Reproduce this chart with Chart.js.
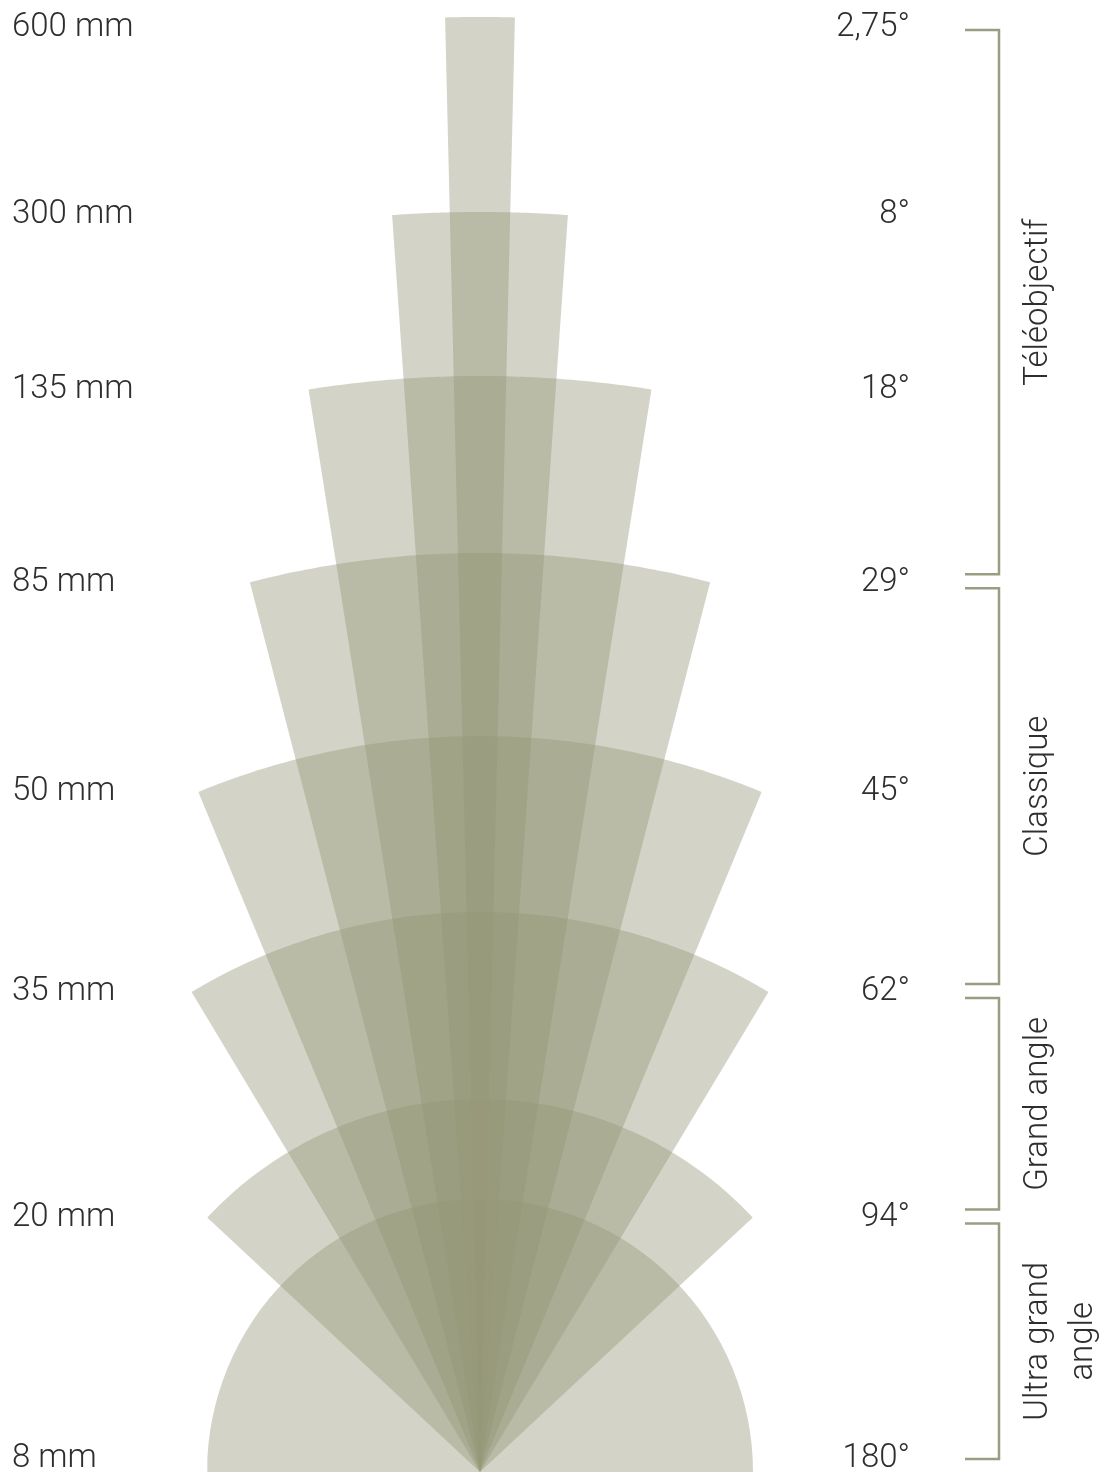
<!DOCTYPE html>
<html lang="fr">
<head>
  <meta charset="UTF-8">
  <title>Focales et angles de champ</title>
  <script src="https://cdn.jsdelivr.net/npm/chart.js"></script>
  <style>
    html, body { margin: 0; padding: 0; background: #fff; }
  </style>
</head>
<body>
  <canvas id="fanChart" width="1115" height="1476"></canvas>
  <script>
    // focales, de la plus longue à la plus courte
    const focales = ['600 mm', '300 mm', '135 mm', '85 mm', '50 mm', '35 mm', '20 mm', '8 mm'];
    // angle de champ (degrés) et son libellé
    const angles = [2.75, 8, 18, 29, 45, 62, 94, 180];
    const anglesLabels = ['2,75°', '8°', '18°', '29°', '45°', '62°', '94°', '180°'];
    // longueur de chaque secteur
    const portees = [1455, 1260, 1096, 919, 736, 560, 373, 273];
    // familles d'objectifs (indices de focales)
    const familles = [
      { nom: ['Téléobjectif'], de: 0, a: 3 },
      { nom: ['Classique'], de: 3, a: 5 },
      { nom: ['Grand angle'], de: 5, a: 6 },
      { nom: ['Ultra grand', 'angle'], de: 6, a: 7 }
    ];

    const couleur = 'rgba(148, 150, 118, 0.41)';
    const police = { family: 'Roboto, "DejaVu Sans", sans-serif', size: 33, weight: '300' };
    const encre = '#2e2e2e';
    const hauteur = 1472;

    // chaque secteur = arc (rempli jusqu'au "V" des deux rayons)
    const datasets = [];
    const niveaux = [];
    angles.forEach((a, i) => {
      const demi = a / 2 * Math.PI / 180;
      const r = portees[i];
      const arc = [];
      const n = 64;
      for (let k = 0; k <= n; k++) {
        const t = -demi + 2 * demi * k / n;
        arc.push({ x: r * Math.sin(t), y: r * Math.cos(t) });
      }
      const coinX = r * Math.sin(demi), coinY = r * Math.cos(demi);
      datasets.push({
        label: focales[i],
        data: arc,
        fill: '+1',
        backgroundColor: couleur,
        borderWidth: 0,
        pointRadius: 0
      });
      datasets.push({
        label: focales[i] + ' rayons',
        data: [{ x: -coinX, y: coinY }, { x: 0, y: 0 }, { x: coinX, y: coinY }],
        fill: false,
        borderWidth: 0,
        borderColor: 'rgba(0,0,0,0)',
        pointRadius: 0
      });
      // libellés à hauteur des coins du secteur, sans sortir du cadre
      niveaux.push(Math.min(Math.max(coinY, 13), hauteur - 28));
    });

    // accolades et noms de familles à droite
    const accolades = {
      id: 'accolades',
      afterDraw(chart) {
        const s = chart.scales.y2;
        const ctx = chart.ctx;
        const xBarre = s.right + 89, xTrait = s.right + 55;
        ctx.save();
        familles.forEach((f, j) => {
          const y0 = s.getPixelForValue(niveaux[f.de]) + (j === 0 ? 2 : 6);
          const y1 = s.getPixelForValue(niveaux[f.a]) - (j === familles.length - 1 ? 0 : 8);
          ctx.strokeStyle = '#9b9d82';
          ctx.lineWidth = 2.5;
          ctx.beginPath();
          ctx.moveTo(xTrait, y0);
          ctx.lineTo(xBarre, y0);
          ctx.lineTo(xBarre, y1);
          ctx.lineTo(xTrait, y1);
          ctx.stroke();

          ctx.save();
          ctx.translate(xBarre + 40, (y0 + y1) / 2);
          ctx.rotate(-Math.PI / 2);
          ctx.fillStyle = encre;
          ctx.font = `${police.weight} ${police.size}px ${police.family}`;
          ctx.textAlign = 'center';
          ctx.textBaseline = 'middle';
          f.nom.forEach((ligne, k) => ctx.fillText(ligne, 0, k * 45));
          ctx.restore();
        });
        ctx.restore();
      }
    };

    const axeVertical = (position, largeur, libelles) => ({
      position: position,
      min: 0,
      max: hauteur,
      grid: { display: false },
      border: { display: false },
      afterBuildTicks: s => { s.ticks = niveaux.map(v => ({ value: v })); },
      afterFit: s => { s.width = largeur; s.paddingTop = 0; s.paddingBottom = 0; },
      ticks: {
        autoSkip: false,
        crossAlign: 'far',
        color: encre,
        font: police,
        callback: (v, i) => libelles[i]
      }
    });

    const ctx = document.getElementById('fanChart').getContext('2d');
    new Chart(ctx, {
      type: 'line',
      data: { datasets: datasets },
      options: {
        responsive: false,
        animation: false,
        layout: { padding: { left: 12, right: 205, top: 0, bottom: 4 } },
        plugins: {
          legend: { display: false },
          tooltip: { enabled: false }
        },
        scales: {
          x: { type: 'linear', min: -318, max: 330, display: false },
          y: axeVertical('left', 150, focales),
          y2: axeVertical('right', 100, anglesLabels)
        }
      },
      plugins: [accolades]
    });
  </script>
</body>
</html>
